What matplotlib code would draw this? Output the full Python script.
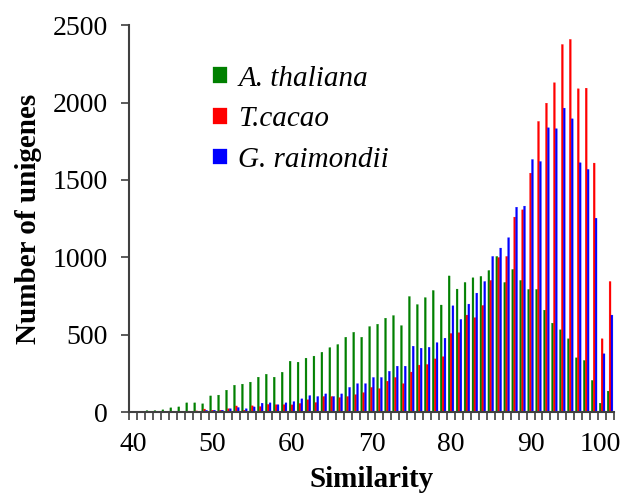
import numpy as np
import matplotlib
matplotlib.use("Agg")
import matplotlib.pyplot as plt
from matplotlib.ticker import MultipleLocator
import matplotlib.transforms as mtransforms

plt.rcParams['font.family'] = ['Liberation Serif', 'DejaVu Serif']

# 数据：相似度 40~100，每个相似度三个物种的 unigene 数
similarity = list(range(40, 101))
thaliana = [3, 5, 10, 10, 15, 28, 34, 60, 60, 54,
            105, 110, 142, 174, 181, 194, 226, 245, 226, 258,
            329, 323, 349, 362, 387, 417, 437, 484, 516, 484,
            553, 568, 607, 624, 559, 747, 695, 740, 786, 692,
            880, 795, 838, 868, 877, 915, 1006, 838, 922, 851,
            793, 793, 659, 575, 532, 474, 351, 334, 205, 58, 136]
cacao = [0, 0, 1, 2, 2, 3, 4, 7, 8, 20,
         13, 13, 22, 40, 13, 41, 36, 50, 48, 48,
         47, 56, 80, 62, 101, 101, 94, 101, 113, 126,
         160, 152, 200, 224, 184, 259, 304, 308, 344, 358,
         508, 513, 627, 610, 689, 851, 999, 1006, 1260, 1307,
         1544, 1878, 1996, 2128, 2375, 2408, 2089, 2093, 1609, 474, 844]
raimondii = [0, 0, 1, 2, 2, 3, 4, 5, 6, 12,
             13, 13, 22, 30, 22, 34, 58, 60, 48, 60,
             68, 86, 107, 101, 118, 101, 118, 160, 184, 184,
             224, 224, 264, 297, 297, 426, 413, 419, 449, 478,
             687, 599, 698, 769, 844, 1006, 1060, 1127, 1324, 1331,
             1632, 1619, 1837, 1831, 1964, 1895, 1611, 1568, 1253, 377, 627]
names = ['A. thaliana', 'T.cacao', 'G. raimondii']
colors = ['#008000', '#ff0000', '#0000ff']
xlabels = ['40', '50', '60', '70', '80', '90', '100']

fig = plt.figure(figsize=(6.34, 4.93), dpi=100)
ax = fig.add_axes([0.2035, 0.164, 0.765, 0.785])

x = np.array(similarity)
w = 0.24
for k, (vals, c, n) in enumerate(zip([thaliana, cacao, raimondii], colors, names)):
    ax.bar(x + (k - 1) * w, vals, width=w, color=c, label=n,
           edgecolor=c, linewidth=0.2, snap=False)

ax.set_xlim(39.5, 100.5)
ax.set_ylim(0, 2500)
ax.yaxis.set_major_locator(MultipleLocator(500))
# 刻度线在类别边界，标签在类别中心
ax.set_xticks(np.arange(39.5, 101, 1))
ax.set_xticklabels([])
ax.set_xticks(range(40, 101, 10), labels=xlabels, minor=True)
ax.tick_params(axis='x', which='major', length=6, width=1.2, color='#404040', direction='out')
ax.tick_params(axis='x', which='minor', length=0, pad=14, labelsize=20)
ax.tick_params(axis='y', length=6, width=1.2, color='#404040', direction='out', labelsize=20, pad=9)

# 最后一个标签稍微左移（像 Excel 那样）
lab = ax.get_xticklabels(minor=True)[-1]
lab.set_transform(lab.get_transform() + mtransforms.ScaledTranslation(-0.1, 0, fig.dpi_scale_trans))

for s in ['top', 'right']:
    ax.spines[s].set_visible(False)
for s in ['left', 'bottom']:
    ax.spines[s].set_color('#404040')
    ax.spines[s].set_linewidth(1.5)

ax.set_xlabel('Similarity', fontsize=21, fontweight='bold')
ax.xaxis.set_label_coords(0.5, -0.14)
ax.set_ylabel('Number of unigenes', fontsize=21, fontweight='bold')
ax.yaxis.set_label_coords(-0.18, 0.5)

ax.legend(loc='upper left', bbox_to_anchor=(0.12, 0.963), frameon=False,
          prop={'style': 'italic', 'size': 21}, handlelength=0.45, handleheight=0.45,
          handletextpad=0.4, labelspacing=0.5)

fig.savefig('out.png', dpi=100)
